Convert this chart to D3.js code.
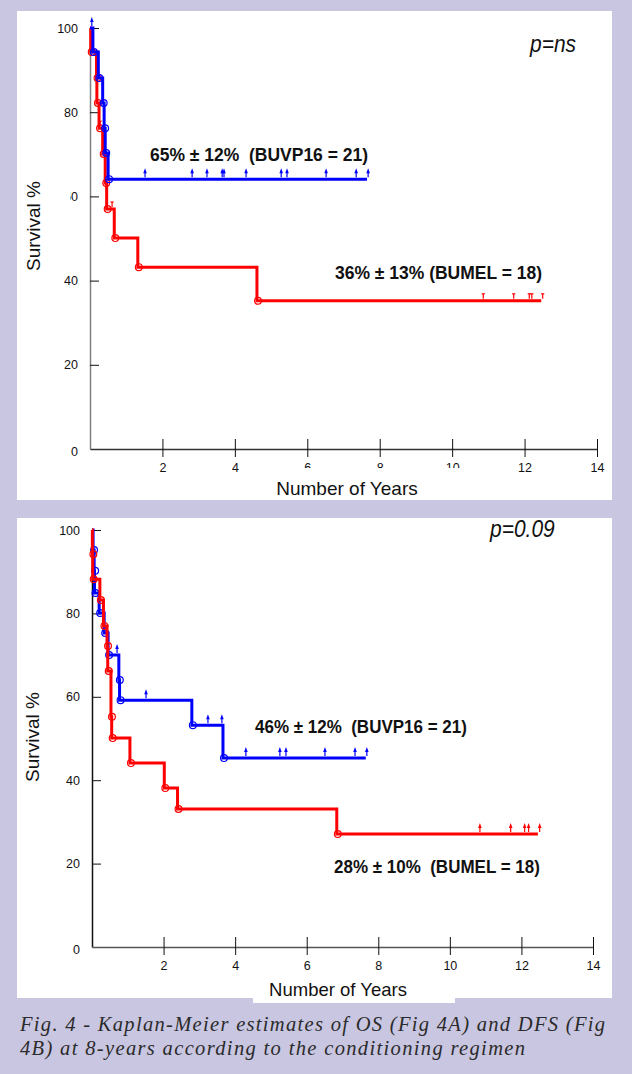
<!DOCTYPE html>
<html>
<head>
<meta charset="utf-8">
<title>Kaplan-Meier OS / DFS</title>
<script src="https://d3js.org/d3.v7.min.js"></script>
<style>
    body{ margin:0; background:#c9c6e1; }
    svg{ display:block; font-family:"Liberation Sans", Arial, sans-serif; }
    .tick text{ font-size:12.5px; fill:#111; }
    .ann{ font-weight:bold; fill:#111; white-space:pre; }
    .pval{ font-style:italic; fill:#111; }
    .caption{ font-family:"Liberation Serif", "Times New Roman", serif; font-style:italic; font-size:20.5px; fill:#2b2b2b; }
</style>
</head>
<body>
<svg width="632" height="1074"></svg>
<script>
// ---- data ----
var yTicks = [0, 20, 40, 60, 80, 100];
var xTicks = [2, 4, 6, 8, 10, 12, 14];

// Fig 4A (OS)
var osBlueT = [0, 0.08, 0.23, 0.35, 0.39, 0.42, 0.5];
var osBlueS = [100, 94.3, 88.1, 82.2, 76.2, 70.3, 64.1];
var osBlueEnd = 7.65;
var osBlueCensT = [0.05, 1.52, 2.82, 3.23, 3.65, 3.70, 4.31, 5.28, 5.44, 6.52, 7.35, 7.68];
var osBlueCensS = [100, 64.1, 64.1, 64.1, 64.1, 64.1, 64.1, 64.1, 64.1, 64.1, 64.1, 64.1];

var osRedT = [0, 0.02, 0.18, 0.19, 0.25, 0.35, 0.42, 0.46, 0.67, 1.32, 4.61];
var osRedS = [100, 94.3, 88.1, 82.2, 76.2, 70.1, 63.2, 57, 50.1, 43.2, 35.2];
var osRedEnd = 12.46;
var osRedCensT = [0.28, 0.61, 10.86, 11.7, 12.13, 12.2, 12.5];
var osRedCensS = [76.2, 57, 35.2, 35.2, 35.2, 35.2, 35.2];

// Fig 4B (DFS)
var dfsBlueT = [0, 0.03, 0.06, 0.07, 0.2, 0.34, 0.45, 0.75, 0.77, 2.79, 3.66];
var dfsBlueS = [100, 95.2, 90.2, 84.9, 80.1, 75.3, 70, 64, 59.2, 53.2, 45.3];
var dfsBlueEnd = 7.65;
var dfsBlueCensT = [0.7, 1.51, 3.24, 3.63, 4.3, 5.25, 5.42, 6.51, 7.35, 7.68];
var dfsBlueCensS = [70, 59.2, 53.2, 53.2, 45.3, 45.3, 45.3, 45.3, 45.3, 45.3];

var dfsRedT = [0, 0.01, 0.02, 0.22, 0.32, 0.42, 0.44, 0.53, 0.55, 1.06, 2.02, 2.39, 6.84];
var dfsRedS = [100, 94.2, 88.2, 83.2, 77, 72.2, 66.2, 55.2, 50.1, 44.1, 38.1, 33.1, 27.1];
var dfsRedEnd = 12.46;
var dfsRedCensT = [10.84, 11.7, 12.09, 12.2, 12.51];
var dfsRedCensS = [27.1, 27.1, 27.1, 27.1, 27.1];

var BLUE = "#0000ff", RED = "#ff0000";

var svg = d3.select("svg");

function series(t, s, end, ct, cs, color, cens) {
    return {t: t, s: s, end: end, ct: ct, cs: cs, color: color, cens: cens};
}

var panels = [
    {
        box: [17, 11, 595, 489], ext: null,
        x0: 90, x1: 597, y0: 449, y1: 28,
        yAxisColor: "#808080", xAxisColor: "#333",
        series: [
            series(osRedT, osRedS, osRedEnd, osRedCensT, osRedCensS, RED, "bar"),
            series(osBlueT, osBlueS, osBlueEnd, osBlueCensT, osBlueCensS, BLUE, "arrow")
        ],
        ann: [
            {text: "65% \u00b1 12%  (BUVP16 = 21)", x: 150, y: 161, size: 17.5},
            {text: "36% \u00b1 13% (BUMEL = 18)", x: 335, y: 279, size: 17.5}
        ],
        p: {text: "p=ns", x: 530, y: 52},
        // white boxes behind the axis titles (they hide part of some tick labels)
        xTitle: {x: 347, y: 495, size: 19, box: [258, 468, 220, 32]},
        yTitle: {x: 40, y: 226, size: 19, box: [17, 140, 53, 134]}
    },
    {
        box: [17, 518, 595, 480], ext: [253, 990, 202, 13],
        x0: 92, x1: 593, y0: 947, y1: 530,
        yAxisColor: "#111", xAxisColor: "#555",
        series: [
            series(dfsBlueT, dfsBlueS, dfsBlueEnd, dfsBlueCensT, dfsBlueCensS, BLUE, "arrow"),
            series(dfsRedT, dfsRedS, dfsRedEnd, dfsRedCensT, dfsRedCensS, RED, "arrow")
        ],
        ann: [
            {text: "46% \u00b1 12%  (BUVP16 = 21)", x: 255, y: 733, size: 17},
            {text: "28% \u00b1 10%  (BUMEL = 18)", x: 334, y: 873, size: 17}
        ],
        p: {text: "p=0.09", x: 490, y: 537},
        xTitle: {x: 338, y: 996, size: 18.5, box: null},
        yTitle: {x: 39, y: 737, size: 19, box: null}
    }
];

panels.forEach(function (P) {
    var g = svg.append("g");

    g.append("rect").attr("x", P.box[0]).attr("y", P.box[1])
        .attr("width", P.box[2]).attr("height", P.box[3]).attr("fill", "#fff");
    if (P.ext) {
        g.append("rect").attr("x", P.ext[0]).attr("y", P.ext[1])
            .attr("width", P.ext[2]).attr("height", P.ext[3]).attr("fill", "#fff");
    }

    var x = d3.scaleLinear().domain([0, 14]).range([P.x0, P.x1]);
    var y = d3.scaleLinear().domain([0, 100]).range([P.y0, P.y1]);

    // y axis, ticks cross the line
    var ya = g.append("g").attr("transform", "translate(" + P.x0 + ",0)")
        .call(d3.axisLeft(y).tickValues(yTicks).tickSize(8).tickSizeOuter(0).tickPadding(4));
    ya.select(".domain").attr("stroke", P.yAxisColor).attr("stroke-width", 1.5);
    ya.selectAll(".tick line").attr("x2", 9).attr("stroke", "#111")
        .filter(function (d) { return d === 0; }).remove();
    ya.selectAll(".tick text").filter(function (d) { return d === 0; }).attr("dy", "0.5em");

    var xa = g.append("g").attr("transform", "translate(0," + P.y0 + ")")
        .call(d3.axisBottom(x).tickValues(xTicks).tickSize(8).tickSizeOuter(0).tickPadding(6));
    xa.select(".domain").attr("stroke", P.xAxisColor).attr("stroke-width", 1.5);
    xa.selectAll(".tick line").attr("y2", 8).attr("y1", -10).attr("stroke", "#111");

    var line = d3.line()
        .x(function (d) { return x(d[0]); })
        .y(function (d) { return y(d[1]); })
        .curve(d3.curveStepAfter);

    P.series.forEach(function (S) {
        var pts = S.t.map(function (t, i) { return [t, S.s[i]]; });
        pts.push([S.end, S.s[S.s.length - 1]]);

        g.append("path").datum(pts)
            .attr("d", line)
            .attr("fill", "none")
            .attr("stroke", S.color)
            .attr("stroke-width", 3);

        // event circles
        g.selectAll(null).data(pts.slice(1, -1)).enter()
            .append("circle")
            .attr("cx", function (d) { return x(d[0]) + 1; })
            .attr("cy", function (d) { return y(d[1]); })
            .attr("r", 3.4)
            .attr("fill", "none")
            .attr("stroke", S.color)
            .attr("stroke-width", 1.2);

        // censored marks
        var cens = S.ct.map(function (t, i) { return [t, S.cs[i]]; });
        var cg = g.selectAll(null).data(cens).enter().append("g")
            .attr("transform", function (d) { return "translate(" + x(d[0]) + "," + y(d[1]) + ")"; });
        if (S.cens === "arrow") {
            cg.append("line").attr("x1", 0).attr("x2", 0).attr("y1", -2).attr("y2", -7)
                .attr("stroke", S.color).attr("stroke-width", 1.2);
            cg.append("path").attr("d", "M-1.8,-6 L0,-11 L1.8,-6 Z").attr("fill", S.color);
        } else {
            cg.append("line").attr("x1", 0).attr("x2", 0).attr("y1", -2).attr("y2", -7)
                .attr("stroke", S.color).attr("stroke-width", 1.2);
            cg.append("line").attr("x1", -1.6).attr("x2", 1.6).attr("y1", -7).attr("y2", -7)
                .attr("stroke", S.color).attr("stroke-width", 1.2);
        }
    });

    P.ann.forEach(function (a) {
        g.append("text").attr("class", "ann")
            .attr("transform", "translate(" + a.x + "," + a.y + ") scale(1,1.1)")
            .style("font-size", a.size + "px")
            .text(a.text);
    });

    g.append("text").attr("class", "pval")
        .attr("transform", "translate(" + P.p.x + "," + P.p.y + ") scale(1,1.12)")
        .style("font-size", "21px")
        .text(P.p.text);

    if (P.xTitle.box) {
        g.append("rect").attr("x", P.xTitle.box[0]).attr("y", P.xTitle.box[1])
            .attr("width", P.xTitle.box[2]).attr("height", P.xTitle.box[3]).attr("fill", "#fff");
    }
    g.append("text")
        .attr("x", P.xTitle.x).attr("y", P.xTitle.y)
        .attr("text-anchor", "middle")
        .style("font-size", P.xTitle.size + "px").attr("fill", "#111")
        .text("Number of Years");

    if (P.yTitle.box) {
        g.append("rect").attr("x", P.yTitle.box[0]).attr("y", P.yTitle.box[1])
            .attr("width", P.yTitle.box[2]).attr("height", P.yTitle.box[3]).attr("fill", "#fff");
    }
    g.append("text")
        .attr("transform", "translate(" + P.yTitle.x + "," + P.yTitle.y + ") rotate(-90)")
        .attr("text-anchor", "middle")
        .style("font-size", P.yTitle.size + "px").attr("fill", "#111")
        .text("Survival %");
});

// caption
svg.append("text").attr("class", "caption")
    .attr("x", 20).attr("y", 1031)
    .attr("textLength", 585).attr("lengthAdjust", "spacing")
    .text("Fig. 4 - Kaplan-Meier estimates of OS (Fig 4A) and DFS (Fig");
svg.append("text").attr("class", "caption")
    .attr("x", 20).attr("y", 1055)
    .attr("textLength", 505).attr("lengthAdjust", "spacing")
    .text("4B) at 8-years according to the conditioning regimen");
</script>
</body>
</html>
